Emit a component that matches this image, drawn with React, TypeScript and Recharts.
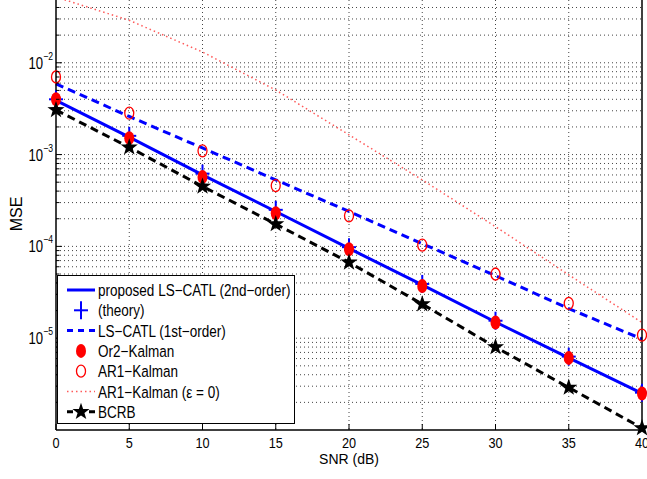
import React from 'react'
import { ComposedChart, Line, XAxis, YAxis, CartesianGrid, Legend } from 'recharts'

// SNR grid (dB)
const snr = [0, 5, 10, 15, 20, 25, 30, 35, 40]

// MSE per estimator
const proposed = [3.9e-3, 1.55e-3, 6.0e-4, 2.4e-4, 9.5e-5, 3.8e-5, 1.5e-5, 6.1e-6, 2.5e-6]
const theory = [4.0e-3, 1.6e-3, 6.2e-4, 2.5e-4, 9.8e-5, 3.9e-5, 1.55e-5, 6.3e-6, 2.55e-6]
const lsFirst = [5.9e-3, 2.6e-3, 1.18e-3, 5.3e-4, 2.4e-4, 1.07e-4, 4.8e-5, 2.1e-5, 9.8e-6]
const or2Kalman = [4.0e-3, 1.51e-3, 5.7e-4, 2.3e-4, 9.3e-5, 3.7e-5, 1.48e-5, 6.1e-6, 2.5e-6]
const ar1Kalman = [7.0e-3, 2.83e-3, 1.1e-3, 4.6e-4, 2.15e-4, 1.03e-4, 5.0e-5, 2.4e-5, 1.08e-5]
const ar1KalmanEps0 = [5.2e-2, 2.9e-2, 1.31e-2, 5.05e-3, 1.64e-3, 5.3e-4, 1.64e-4, 4.9e-5, 1.48e-5]
const bcrb = [3.06e-3, 1.2e-3, 4.5e-4, 1.75e-4, 6.7e-5, 2.35e-5, 8.0e-6, 2.9e-6, 1.05e-6]

const xTicks = [0, 5, 10, 15, 20, 25, 30, 35, 40]
const xGrid = [5, 10, 15, 20, 25, 30, 35]
const yDomain = [1e-6, 0.059]
const decadeExps = [-6, -5, -4, -3, -2]

// 1..9 x 10^k ticks for the log axis
const yTicks: number[] = []
decadeExps.forEach((k) => {
  for (let m = 1; m <= 9; m++) {
    const v = m * Math.pow(10, k)
    if (v > 1.01e-6 && v < yDomain[1]) yTicks.push(v)
  }
})

const data = snr.map((s, i) => ({
  snr: s,
  proposed: proposed[i],
  theory: theory[i],
  lsFirst: lsFirst[i],
  or2: or2Kalman[i],
  ar1: ar1Kalman[i],
  ar1Eps: ar1KalmanEps0[i],
  bcrb: bcrb[i],
}))

const FONT = '"Liberation Sans", Arial, Helvetica, sans-serif'
const BLUE = '#0000ff'
const RED = '#ff0000'
const PINK = '#ff5a5a'
// the figure's glyphs are a little narrower than they are tall
const SQUEEZE = 0.82

const isDecade = (v: number) => Math.abs(Math.log10(v) - Math.round(Math.log10(v))) < 1e-6

const starPath = (cx: number, cy: number, R: number) => {
  let d = ''
  for (let i = 0; i < 10; i++) {
    const r = i % 2 === 0 ? R : R * 0.4
    const a = ((-90 + i * 36) * Math.PI) / 180
    d += (i === 0 ? 'M' : 'L') + (cx + r * Math.cos(a)).toFixed(2) + ',' + (cy + r * Math.sin(a)).toFixed(2)
  }
  return d + 'Z'
}

const Star = ({ cx, cy }: any) => <path d={starPath(cx, cy, 9)} fill="#000" />
const Plus = ({ cx, cy }: any) => (
  <g stroke={BLUE} strokeWidth={2}>
    <line x1={cx - 7} y1={cy} x2={cx + 7} y2={cy} />
    <line x1={cx} y1={cy - 9} x2={cx} y2={cy + 9} />
  </g>
)
const FilledDot = ({ cx, cy }: any) => <ellipse cx={cx} cy={cy} rx={5} ry={7} fill={RED} />
const OpenDot = ({ cx, cy }: any) => (
  <ellipse cx={cx} cy={cy} rx={4.5} ry={6} fill="none" stroke={RED} strokeWidth={1.3} />
)

// text squeezed horizontally around its anchor point
const SText = ({ x, y, size, anchor = 'start', children }: any) => (
  <g transform={`translate(${x},${y}) scale(${SQUEEZE},1)`}>
    <text x={0} y={0} textAnchor={anchor} fontFamily={FONT} fontSize={size} fill="#000">
      {children}
    </text>
  </g>
)

const LeftTick = ({ x, y, payload }: any) => {
  const v = payload.value
  const major = isDecade(v)
  return (
    <g>
      <line x1={x} y1={y} x2={x + (major ? 6 : 3.5)} y2={y} stroke="#000" strokeWidth={1} />
      {major && (
        <SText x={x - 3} y={y + 6} size={16} anchor="end">
          <tspan>10</tspan>
          <tspan fontSize={10.5} dy={-9}>{'\u2212' + Math.abs(Math.round(Math.log10(v)))}</tspan>
        </SText>
      )}
    </g>
  )
}

const RightTick = ({ x, y, payload }: any) => {
  const major = isDecade(payload.value)
  return <line x1={x} y1={y} x2={x - (major ? 6 : 3.5)} y2={y} stroke="#000" strokeWidth={1} />
}

const BottomTick = ({ x, y, payload }: any) => (
  <g>
    <line x1={x} y1={y} x2={x} y2={y - 6} stroke="#000" strokeWidth={1} />
    <SText x={x} y={y + 18} size={15.5} anchor="middle">
      {payload.value}
    </SText>
  </g>
)

const legendRows = [
  { name: 'proposed LS\u2212CATL (2nd\u2212order)', kind: 'solid' },
  { name: '(theory)', kind: 'plus' },
  { name: 'LS\u2212CATL (1st\u2212order)', kind: 'dashBlue' },
  { name: 'Or2\u2212Kalman', kind: 'dot' },
  { name: 'AR1\u2212Kalman', kind: 'circle' },
  { name: 'AR1\u2212Kalman (\u03b5 = 0)', kind: 'dotted' },
  { name: 'BCRB', kind: 'star' },
]

const LegendBox = () => (
  <svg width={239} height={150} style={{ display: 'block' }}>
    <rect x={0.5} y={0.5} width={237} height={148} fill="#fff" stroke="#000" strokeWidth={1} />
    {legendRows.map((row, i) => {
      const cy = 15 + i * 20.3
      let sample: React.ReactNode = null
      if (row.kind === 'solid') sample = <line x1={10} y1={cy} x2={38} y2={cy} stroke={BLUE} strokeWidth={3} />
      if (row.kind === 'plus') sample = <Plus cx={24} cy={cy} />
      if (row.kind === 'dashBlue')
        sample = <line x1={10} y1={cy} x2={38} y2={cy} stroke={BLUE} strokeWidth={3} strokeDasharray="6 5" />
      if (row.kind === 'dot') sample = <FilledDot cx={24} cy={cy} />
      if (row.kind === 'circle') sample = <OpenDot cx={24} cy={cy} />
      if (row.kind === 'dotted')
        sample = <line x1={10} y1={cy} x2={38} y2={cy} stroke={PINK} strokeWidth={1.5} strokeDasharray="1.5 3" />
      if (row.kind === 'star')
        sample = (
          <g>
            <line x1={10} y1={cy} x2={38} y2={cy} stroke="#000" strokeWidth={3} strokeDasharray="6 5" />
            <Star cx={24} cy={cy} />
          </g>
        )
      return (
        <g key={row.name}>
          {sample}
          <SText x={41} y={cy + 6} size={16.5}>
            {row.name}
          </SText>
        </g>
      )
    })}
  </svg>
)

export default function App() {
  return (
    <div style={{ position: 'absolute', left: 0, top: -8, width: 647, height: 487, background: '#fff' }}>
      <ComposedChart width={647} height={487} data={data} margin={{ top: 0, right: 0, bottom: 0, left: 0 }}>
        <CartesianGrid
          yAxisId="left"
          horizontalValues={yTicks}
          verticalValues={xGrid}
          stroke="#444"
          strokeDasharray="1 3"
          strokeWidth={1}
        />
        <XAxis
          dataKey="snr"
          type="number"
          domain={[0, 40]}
          ticks={xTicks}
          interval={0}
          height={49}
          tickSize={0}
          tickMargin={0}
          tickLine={false}
          axisLine={{ stroke: '#000', strokeWidth: 1.5 }}
          tick={<BottomTick />}
          label={({ viewBox }: any) => (
            <text
              x={viewBox.x + viewBox.width / 2}
              y={viewBox.y + 34}
              textAnchor="middle"
              fontFamily={FONT}
              fontSize={14}
              fill="#000"
            >
              SNR (dB)
            </text>
          )}
        />
        <YAxis
          yAxisId="left"
          type="number"
          scale="log"
          domain={yDomain}
          ticks={yTicks}
          interval={0}
          width={56}
          tickSize={0}
          tickMargin={0}
          tickLine={false}
          axisLine={{ stroke: '#000', strokeWidth: 1.5 }}
          tick={<LeftTick />}
          label={() => (
            <text
              x={22}
              y={222}
              transform={`rotate(-90, 22, 222)`}
              textAnchor="middle"
              fontFamily={FONT}
              fontSize={16}
              fill="#000"
            >
              MSE
            </text>
          )}
        />
        <YAxis
          yAxisId="right"
          orientation="right"
          type="number"
          scale="log"
          domain={yDomain}
          ticks={yTicks}
          interval={0}
          width={5}
          tickSize={0}
          tickMargin={0}
          tickLine={false}
          axisLine={{ stroke: '#000', strokeWidth: 1.5 }}
          tick={<RightTick />}
        />
        <Line yAxisId="left" dataKey="proposed" stroke={BLUE} strokeWidth={3} dot={false} isAnimationActive={false} />
        <Line
          yAxisId="left"
          dataKey="theory"
          stroke="none"
          dot={(p: any) => <Plus key={`t${p.index}`} cx={p.cx} cy={p.cy} />}
          activeDot={false}
          isAnimationActive={false}
        />
        <Line
          yAxisId="left"
          dataKey="lsFirst"
          stroke={BLUE}
          strokeWidth={3}
          strokeDasharray="8 5"
          dot={false}
          isAnimationActive={false}
        />
        <Line
          yAxisId="left"
          dataKey="or2"
          stroke="none"
          dot={(p: any) => <FilledDot key={`o${p.index}`} cx={p.cx} cy={p.cy} />}
          activeDot={false}
          isAnimationActive={false}
        />
        <Line
          yAxisId="left"
          dataKey="ar1"
          stroke="none"
          dot={(p: any) => <OpenDot key={`a${p.index}`} cx={p.cx} cy={p.cy} />}
          activeDot={false}
          isAnimationActive={false}
        />
        <Line
          yAxisId="left"
          dataKey="ar1Eps"
          stroke={PINK}
          strokeWidth={1.5}
          strokeDasharray="1.5 3"
          dot={false}
          isAnimationActive={false}
        />
        <Line
          yAxisId="left"
          dataKey="bcrb"
          stroke="#000"
          strokeWidth={3}
          strokeDasharray="8 5"
          dot={(p: any) => <Star key={`b${p.index}`} cx={p.cx} cy={p.cy} />}
          activeDot={false}
          isAnimationActive={false}
        />
        <Legend
          layout="vertical"
          align="center"
          verticalAlign="middle"
          content={<LegendBox />}
          wrapperStyle={{ left: 57, top: 283, width: 239, height: 150 }}
        />
      </ComposedChart>
    </div>
  )
}
